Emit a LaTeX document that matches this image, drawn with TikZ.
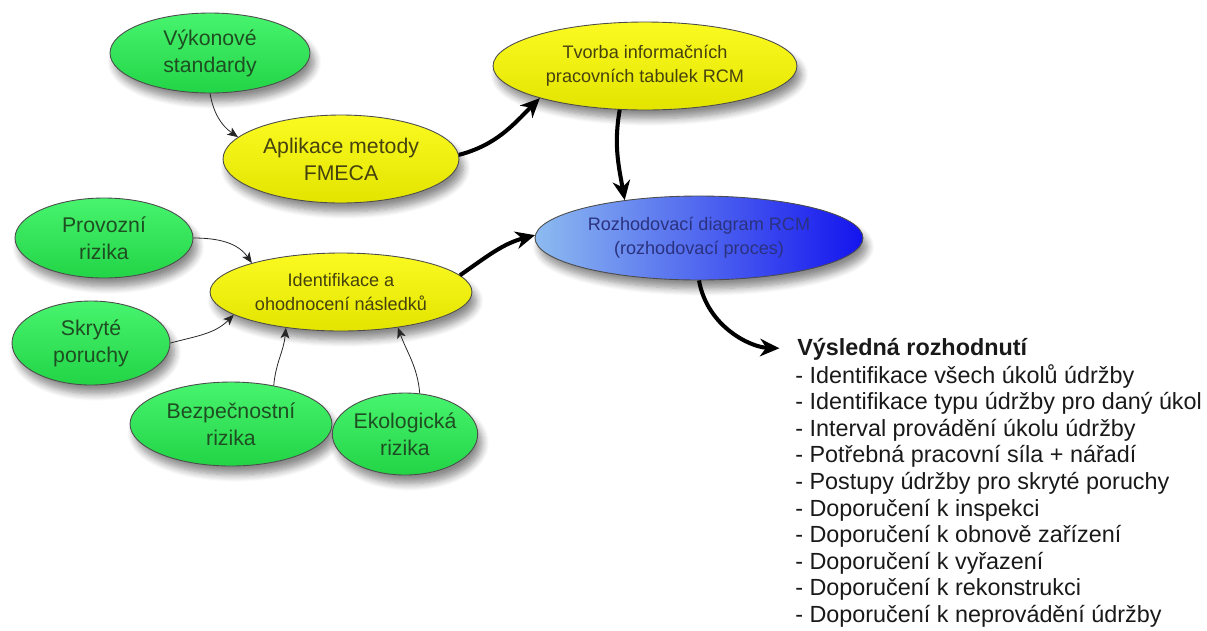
\documentclass[tikz,border=0pt]{standalone}
\usepackage{fontspec}
\setmainfont{Liberation Sans}
\usetikzlibrary{shapes.geometric,arrows.meta,shadows.blur}

\definecolor{grtop}{HTML}{48F46E}
\definecolor{grmid}{HTML}{30E658}
\definecolor{grbot}{HTML}{22D446}
\definecolor{grtext}{HTML}{1E4E22}
\definecolor{yetop}{HTML}{FAFA22}
\definecolor{yemid}{HTML}{F2F200}
\definecolor{yebot}{HTML}{E4E400}
\definecolor{yetext}{HTML}{45420E}
\definecolor{blleft}{HTML}{8DBBF0}
\definecolor{blright}{HTML}{1414EE}
\definecolor{bltext}{HTML}{2A3280}

\tikzset{
  bubble/.style={ellipse, draw=black!70, line width=0.5pt, inner sep=0pt, align=center,
    blur shadow={shadow xshift=2.5pt, shadow yshift=-5pt, shadow blur steps=8,
                 shadow blur radius=4pt, shadow opacity=45}},
  bigtext/.style={font=\fontsize{12.1}{15.3}\selectfont},
  smalltext/.style={font=\fontsize{10.3}{13.6}\selectfont},
  greenbubble/.style={bubble, bigtext, top color=grtop, middle color=grmid,
    bottom color=grbot, text=grtext},
  yellowbubble/.style={bubble, top color=yetop, middle color=yemid,
    bottom color=yebot, text=yetext},
  bluebubble/.style={bubble, smalltext, left color=blleft, right color=blright, text=bltext},
  thinarrow/.style={-{Stealth[length=6pt,width=5pt,inset=1.5pt]}, line width=0.45pt, black!85},
  thickarrow/.style={-{Stealth[length=11pt,width=10pt,inset=3.5pt]}, line width=2.3pt, black},
  listline/.style={anchor=base west, inner sep=0pt, text=black!90,
    font=\fontsize{13.3}{15.1}\selectfont},
}

\begin{document}
\begin{tikzpicture}[x=0.02cm, y=-0.02cm]
  \useasboundingbox (0,0) rectangle (1207,630);

  % upper branch
  \node[greenbubble, minimum width=40mm, minimum height=16mm] (vyk) at (210,53)
    {Výkonové\\standardy};
  \node[yellowbubble, bigtext, minimum width=47.2mm, minimum height=17.6mm] (apl) at (341,159)
    {Aplikace metody\\FMECA};
  \node[yellowbubble, smalltext, minimum width=60.8mm, minimum height=17.6mm] (tvo) at (645,66)
    {Tvorba informačních\\pracovních tabulek RCM};

  % decision process
  \node[bluebubble, minimum width=65.6mm, minimum height=16.8mm] (roz) at (699,238)
    {Rozhodovací diagram RCM\\(rozhodovací proces)};

  % lower branch
  \node[yellowbubble, smalltext, minimum width=52.4mm, minimum height=15.6mm] (ide) at (341,292)
    {Identifikace a\\ohodnocení následků};
  \node[greenbubble, minimum width=35.6mm, minimum height=16mm] (pro) at (104,238)
    {Provozní\\rizika};
  \node[greenbubble, minimum width=31.6mm, minimum height=16.8mm] (sky) at (91,343)
    {Skryté\\poruchy};
  \node[greenbubble, minimum width=40.4mm, minimum height=16.8mm] (bez) at (231,424)
    {Bezpečnostní\\rizika};
  \node[greenbubble, minimum width=28.4mm, minimum height=16.4mm] (eko) at (405,434)
    {Ekologická\\rizika};

  % resulting decisions
  \node[listline, font=\fontsize{13.3}{15.1}\selectfont\bfseries] (res) at (797,355)
    {Výsledná rozhodnutí};
  \foreach \t [count=\i] in {
      - Identifikace všech úkolů údržby,
      - Identifikace typu údržby pro daný úkol,
      - Interval provádění úkolu údržby,
      - Potřebná pracovní síla + nářadí,
      - Postupy údržby pro skryté poruchy,
      - Doporučení k inspekci,
      - Doporučení k obnově zařízení,
      - Doporučení k vyřazení,
      - Doporučení k rekonstrukci,
      - Doporučení k neprovádění údržby}
    \node[listline] (item\i) at (795,{383+26.6*(\i-1)}) {\t};

  % connectors
  \draw[thinarrow] (vyk.south) to[out=-80, in=145] (apl.168);
  \draw[thickarrow] (apl.2) to[out=15, in=225] (tvo.197);
  \draw[thickarrow] (tvo.240) to[out=-100, in=100] (roz.153);
  \draw[thickarrow] (ide.8) to[out=35, in=195] (roz.179);
  \draw[thickarrow, shorten >=10pt] (roz.south) to[out=-80, in=178] (res.west);

  \draw[thinarrow] (pro.east) to[out=0, in=125] (ide.162);
  \draw[thinarrow] (sky.east) to[out=15, in=225] (ide.192);
  \draw[thinarrow] (bez.42) to[out=85, in=-95] (ide.213);
  \draw[thinarrow] (eko.70) to[out=95, in=-70] (ide.-32);
\end{tikzpicture}
\end{document}
